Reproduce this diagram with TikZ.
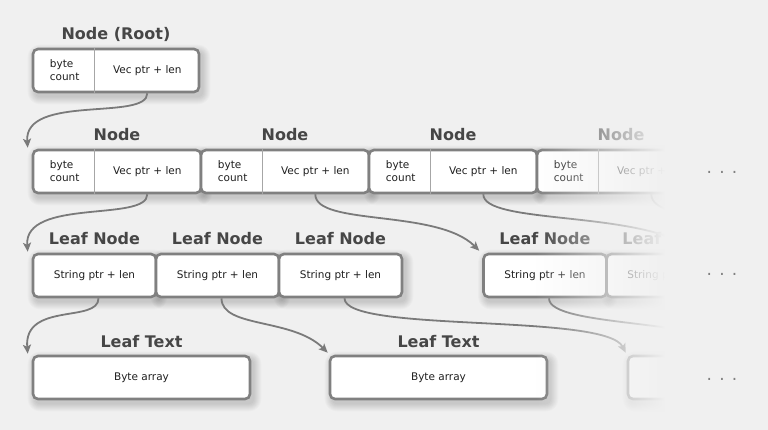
\documentclass[tikz,border=0pt]{standalone}
\usepackage{fontspec}
\setmainfont{DejaVu Sans}
\usetikzlibrary{calc,positioning,arrows.meta,fadings,backgrounds}

\definecolor{bgcol}{HTML}{F0F0F0}
\definecolor{edgecol}{HTML}{808080}
\definecolor{titlecol}{HTML}{464646}
\definecolor{linkcol}{HTML}{7A7A7A}
\tikzfading[name=fadeeast,left color=transparent!100,right color=transparent!0]

\begin{document}
\begin{tikzpicture}
[x=1pt,y=-1pt,
 box/.style={draw=edgecol,line width=2.6pt,fill=white,rounded corners=5pt,inner sep=0pt,minimum height=43pt},
 title/.style={font=\fontsize{16}{18}\selectfont\bfseries,text=titlecol,inner sep=0pt,text depth=4pt},
 txt/.style={font=\fontsize{10.5}{13}\selectfont,text=black!88,inner sep=0pt},
 divider/.style={draw=edgecol!70,line width=0.8pt},
 link/.style={draw=linkcol,line width=1.8pt,-{Stealth[length=9pt,width=8pt,inset=2pt]}},
 dots/.style={font=\fontsize{17}{17}\selectfont,text=edgecol,anchor=base}]

\useasboundingbox (0,0) rectangle (768,430);

% root
\node[box,minimum width=166pt] (root) at (116,70.5) {};
\node[title,above=3.5pt of root] (roott) {Node (Root)};
\node[txt,align=left] (roota) at ($(root.west)+(33,0)$) {byte\\count};
\node[txt] (rootb) at ($(root.east)+(-53,0)$) {Vec ptr + len};
\draw[divider] ($(root.north west)+(63,0)$) -- ($(root.south west)+(63,0)$);

% inner nodes
\foreach \i/\x in {1/117,2/285,3/453,4/621} {
  \node[box,minimum width=168pt] (n\i) at (\x,171.5) {};
  \node[title,above=3.5pt of n\i] (n\i t) {Node};
  \node[txt,align=left] (n\i a) at ($(n\i.west)+(33,0)$) {byte\\count};
  \node[txt] (n\i b) at ($(n\i.east)+(-55,0)$) {Vec ptr + len};
  \draw[divider] ($(n\i.north west)+(63,0)$) -- ($(n\i.south west)+(63,0)$);
}

% leaf nodes
\foreach \i/\x in {1/94.5,2/217.5,3/340.5,4/545,5/668} {
  \node[box,minimum width=123pt] (leaf\i) at (\x,275.5) {};
  \node[title,above=3.5pt of leaf\i] (leaf\i t) {Leaf Node};
  \node[txt] (leaf\i b) at (leaf\i) {String ptr + len};
}

% leaf text
\foreach \i/\x in {1/141.5,2/438.5} {
  \node[box,minimum width=217pt] (text\i) at (\x,377.5) {};
  \node[title,above=3.5pt of text\i] (text\i t) {Leaf Text};
  \node[txt] (text\i b) at (text\i) {Byte array};
}
\node[box,minimum width=217pt] (text3) at (736.5,377.5) {};

% soft shadows behind the boxes
\begin{scope}[on background layer]
  \fill[bgcol] (0,0) rectangle (768,430);
  \foreach \b in {root,n1,n2,n3,n4,leaf1,leaf2,leaf3,leaf4,leaf5,text1,text2,text3}
    \foreach \k in {0,...,7}
      \fill[black,opacity=0.018,rounded corners=5pt+\k pt]
        ($(\b.north west)+(3-\k,4-\k)$) rectangle ($(\b.south east)+(3+\k,4+\k)$);
\end{scope}

% pointers
\draw[link] (rootb |- root.south) .. controls +(0,28) and +(-4,-54) .. ($(n1.north west)+(-4,-1)$);
\draw[link] (n1b |- n1.south) .. controls +(0,28) and +(-4,-54) .. ($(leaf1.north west)+(-4,-1)$);
\draw[link] (n2b |- n2.south) .. controls +(0,32) and +(-42,-42) .. ($(leaf4.north west)+(-3,-2)$);
\draw[link] (n3b |- n3.south) .. controls +(0,30) and +(-60,-40) .. ($(leaf5.north west)+(90,-2)$);
\draw[link] (n4b |- n4.south) .. controls +(0,30) and +(-60,-40) .. ($(n4.south east)+(120,60)$);
\draw[link] ($(leaf1.south)+(4,0)$) .. controls +(0,25) and +(-4,-52) .. ($(text1.north west)+(-4,-1)$);
\draw[link] ($(leaf2.south)+(4,0)$) .. controls +(0,30) and +(-35,-35) .. ($(text2.north west)+(-1,-2)$);
\draw[link] ($(leaf3.south)+(4,0)$) .. controls +(0,35) and +(-20,-40) .. ($(text3.north west)+(-1,-2)$);
\draw[link] ($(leaf4.south)+(4,0)$) .. controls +(0,30) and +(-40,-40) .. ($(leaf4.south east)+(150,60)$);

% fade out to the right
\fill[bgcol,path fading=fadeeast] (535,0) rectangle (665,430);
\fill[bgcol] (665,0) rectangle (768,430);

\node[dots] (more1) at (722,174) {. . .};
\node[dots] (more2) at (722,276) {. . .};
\node[dots] (more3) at (722,380) {. . .};
\end{tikzpicture}
\end{document}
